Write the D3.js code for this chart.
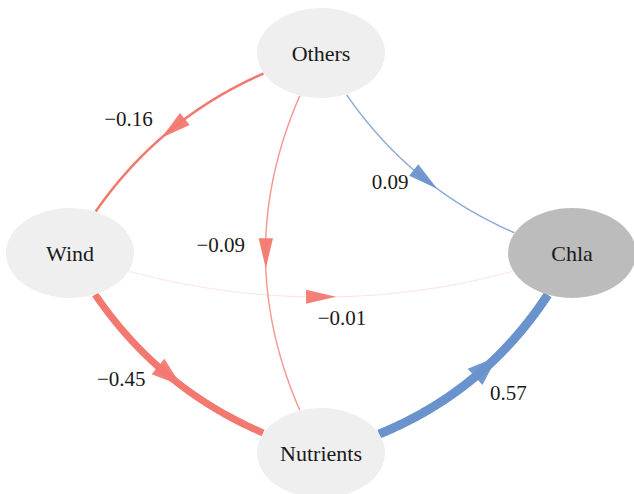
<!DOCTYPE html>
<html>
<head>
<meta charset="utf-8">
<script src="https://cdn.jsdelivr.net/npm/d3@7"></script>
<style>
  body { margin: 0; background: #fff; }
  svg { display: block; }
  text { font-family: "Liberation Serif", "DejaVu Serif", serif; }
</style>
</head>
<body>
<div id="chart"></div>
<script>
// nodes of the path model, placed on a unit diamond (layout coordinates)
var nodeNames = ["Others", "Wind", "Chla", "Nutrients"];
var nodeX = [0, -1, 1, 0];
var nodeY = [1, 0, 0, -1];

// path coefficients
var edgeFrom = ["Others", "Others", "Others", "Wind", "Wind", "Nutrients"];
var edgeTo   = ["Wind", "Nutrients", "Chla", "Chla", "Nutrients", "Chla"];
var edgeCoef = [-0.16, -0.09, 0.09, -0.01, -0.45, 0.57];

// drawing style per edge: bend of the curve, arrow shift along the curve,
// label offset from arrow tip
var edgeBend   = [67, 111, 68, 88, 69, 73];
var arrowShift = [-4, 0, 6, 0, 0, 16];
var labelDx    = [-33, -45, -47, 6, -60, 11];
var labelDy    = [-19, -23, -7, 21, -7, 36];

var width = 634, height = 494;
var rx = 64, ry = 45;

var svg = d3.select("#chart")
    .append("svg")
    .attr("width", width)
    .attr("height", height);

// layout -> pixels
var x = d3.scaleLinear().domain([-1, 1]).range([70, 572]);
var y = d3.scaleLinear().domain([-1, 1]).range([453, 53]);

// edge width / fading from |coefficient|
var wScale = d3.scaleLinear().domain([0, 0.57]).range([0, 9]);
var aScale = d3.scaleLinear().domain([0, 0.12]).range([0.15, 1]).clamp(true);

var posColor = "#6a92cc", negColor = "#f3786f";

function nodePos(name) {
    var i = nodeNames.indexOf(name);
    return [x(nodeX[i]), y(nodeY[i])];
}
function inside(p, c) {
    var a = (p[0] - c[0]) / rx, b = (p[1] - c[1]) / ry;
    return a * a + b * b < 1;
}

var edgeLayer = svg.append("g");

edgeCoef.forEach(function(v, i) {
    var p0 = nodePos(edgeFrom[i]), p1 = nodePos(edgeTo[i]);
    var dx = p1[0] - p0[0], dy = p1[1] - p0[1];
    var L = Math.sqrt(dx * dx + dy * dy);
    // control point pushed to the right-hand side of the direction
    var c = [(p0[0] + p1[0]) / 2 - dy / L * edgeBend[i],
             (p0[1] + p1[1]) / 2 + dx / L * edgeBend[i]];

    // sample the curve, keep only the part outside the two ellipses
    var pts = [];
    for (var k = 0; k <= 600; k++) {
        var t = k / 600, u = 1 - t;
        var p = [u * u * p0[0] + 2 * u * t * c[0] + t * t * p1[0],
                 u * u * p0[1] + 2 * u * t * c[1] + t * t * p1[1]];
        if (!inside(p, p0) && !inside(p, p1)) pts.push(p);
    }
    var cum = [0];
    for (k = 1; k < pts.length; k++) {
        cum.push(cum[k - 1] + Math.hypot(pts[k][0] - pts[k - 1][0], pts[k][1] - pts[k - 1][1]));
    }
    var total = cum[cum.length - 1];

    var col = v < 0 ? negColor : posColor;
    var lw = Math.max(1, wScale(Math.abs(v)));

    edgeLayer.append("path")
        .attr("d", d3.line()(pts))
        .attr("fill", "none")
        .attr("stroke", col)
        .attr("stroke-opacity", aScale(Math.abs(v)))
        .attr("stroke-width", lw);

    // arrow head: centred on the middle of the visible curve
    var alen = 30, aw = 13 + lw;
    var target = total / 2 + alen / 2 + arrowShift[i];
    var j = d3.bisectLeft(cum, target);
    j = Math.min(Math.max(j, 1), pts.length - 2);
    var tip = pts[j];
    var back = pts[d3.bisectLeft(cum, target - alen)];
    var ux = tip[0] - back[0], uy = tip[1] - back[1];
    var ul = Math.sqrt(ux * ux + uy * uy);
    ux /= ul; uy /= ul;
    var bx = tip[0] - ux * alen, by = tip[1] - uy * alen;

    edgeLayer.append("path")
        .attr("d", "M" + tip[0] + "," + tip[1] +
                   "L" + (bx - uy * aw / 2) + "," + (by + ux * aw / 2) +
                   "L" + (bx + uy * aw / 2) + "," + (by - ux * aw / 2) + "Z")
        .attr("fill", col)
        .attr("fill-opacity", 0.95);

    edgeLayer.append("text")
        .attr("x", tip[0] + labelDx[i])
        .attr("y", tip[1] + labelDy[i])
        .attr("text-anchor", "middle")
        .attr("dominant-baseline", "central")
        .attr("font-size", "21px")
        .attr("fill", "#1a1a1a")
        .text((v < 0 ? "\u2212" : "") + d3.format(".2f")(Math.abs(v)));
});

// nodes on top of the edges
var node = svg.append("g")
    .selectAll("g")
    .data(nodeNames)
    .enter()
        .append("g")
        .attr("transform", function(d) { var p = nodePos(d); return "translate(" + p[0] + "," + p[1] + ")"; });

node.append("ellipse")
    .attr("rx", rx)
    .attr("ry", ry)
    .attr("fill", function(d) { return d === "Chla" ? "#bcbcbc" : "#efefef"; });

node.append("text")
    .attr("text-anchor", "middle")
    .attr("dominant-baseline", "central")
    .attr("font-size", "22px")
    .attr("fill", "#1a1a1a")
    .text(function(d) { return d; });
</script>
</body>
</html>
